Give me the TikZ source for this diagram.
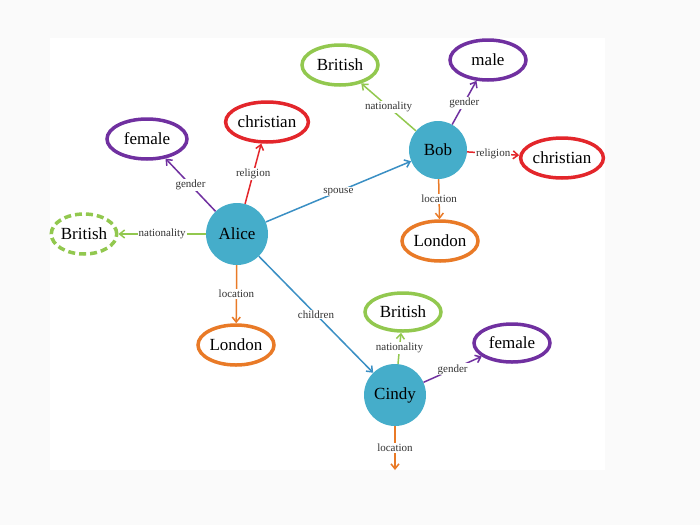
\documentclass[tikz,border=0pt]{standalone}
\usepackage{fontspec}
\setmainfont{Liberation Serif}
\usepackage{tikz}
\usetikzlibrary{arrows.meta, shapes.geometric}
\definecolor{nodeblue}{HTML}{45ADCA}
\definecolor{edgeblue}{HTML}{3A8FC4}
\definecolor{kpurple}{HTML}{7030A0}
\definecolor{kred}{HTML}{E3262B}
\definecolor{kgreen}{HTML}{92C84F}
\definecolor{korange}{HTML}{E97A27}
\tikzset{
  person/.style={circle, fill=nodeblue, minimum size=62pt, inner sep=0pt, font=\fontsize{17}{17}\selectfont},
  value/.style={ellipse, draw, line width=3.5pt, fill=white, minimum width=76pt, minimum height=40pt, inner sep=0pt, font=\fontsize{17}{17}\selectfont},
  rel/.style={-{Straight Barb[length=5pt,width=8pt]}, line width=1.5pt},
  lab/.style={fill=white, inner sep=1pt, text=black!80, font=\fontsize{11}{11}\selectfont}
}
\begin{document}
\begin{tikzpicture}[x=1pt, y=-1pt]
    \useasboundingbox (0,0) rectangle (700,525);
    \fill[black!2] (0,0) rectangle (700,525);
    \fill[white] (50,38) rectangle (605,470);
    % people
    \node[person](alice) at (237,234) {Alice};
    \node[person, minimum size=58pt](bob) at (438,150) {Bob};
    \node[person](cindy) at (395,395) {Cindy};
    % Alice's values
    \node[value, draw=kpurple, minimum width=80pt](afemale) at (147,139) {female};
    \node[value, draw=kred, minimum width=78pt](achristian) at (267,122) {christian};
    \node[value, draw=kgreen, dash pattern=on 7pt off 4pt, minimum width=64pt](abritish) at (84,234) {British};
    \node[value, draw=korange](alondon) at (236,345) {London};
    % Bob's values
    \node[value, draw=kgreen](bbritish) at (340,65) {British};
    \node[value, draw=kpurple](bmale) at (488,60) {male};
    \node[value, draw=kred, minimum width=78pt](bchristian) at (562,158) {christian};
    \node[value, draw=korange](blondon) at (440,241) {London};
    % Cindy's values
    \node[value, draw=kgreen, minimum height=38pt](cbritish) at (403,312) {British};
    \node[value, draw=kpurple, minimum height=38pt](cfemale) at (512,343) {female};
    \coordinate (cend) at (395,470);
    % Transitions
    \draw[rel, kpurple] (alice) -- node[lab] {gender} (afemale);
    \draw[rel, kred] (alice) -- node[lab] {religion} (achristian);
    \draw[rel, kgreen] (alice) -- node[lab] {nationality} (abritish);
    \draw[rel, korange] (alice) -- node[lab] {location} (alondon);
    \draw[rel, edgeblue] (alice) -- node[lab] {spouse} (bob);
    \draw[rel, edgeblue] (alice) -- node[lab] {children} (cindy);
    \draw[rel, kgreen] (bob) -- node[lab] {nationality} (bbritish);
    \draw[rel, kpurple] (bob) -- node[lab] {gender} (bmale);
    \draw[rel, kred] (bob) -- node[lab] {religion} (bchristian);
    \draw[rel, korange] (bob) -- node[lab] {location} (blondon);
    \draw[rel, kgreen] (cindy) -- node[lab] {nationality} (cbritish);
    \draw[rel, kpurple] (cindy) -- node[lab] {gender} (cfemale);
    \draw[rel, korange] (cindy) -- node[lab] {location} (cend);
\end{tikzpicture}
\end{document}
